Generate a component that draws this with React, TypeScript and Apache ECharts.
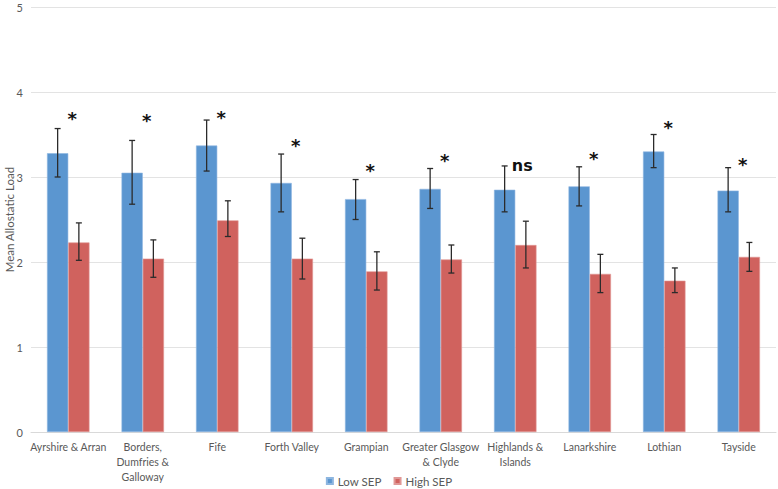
import React, { useEffect, useRef } from "react";
import * as echarts from "echarts";

const categories = [
  "Ayrshire & Arran",
  "Borders,\nDumfries &\nGalloway",
  "Fife",
  "Forth Valley",
  "Grampian",
  "Greater Glasgow\n& Clyde",
  "Highlands &\nIslands",
  "Lanarkshire",
  "Lothian",
  "Tayside",
];
const lowSEP = [3.28, 3.05, 3.37, 2.93, 2.74, 2.86, 2.85, 2.89, 3.3, 2.84];
const lowSEPUpper = [3.57, 3.43, 3.67, 3.27, 2.97, 3.1, 3.13, 3.12, 3.5, 3.11];
const lowSEPLower = [3.0, 2.68, 3.07, 2.59, 2.5, 2.63, 2.59, 2.66, 3.11, 2.59];
const highSEP = [2.23, 2.04, 2.49, 2.04, 1.89, 2.03, 2.2, 1.86, 1.78, 2.06];
const highSEPUpper = [2.46, 2.26, 2.72, 2.28, 2.12, 2.2, 2.48, 2.09, 1.93, 2.23];
const highSEPLower = [2.02, 1.82, 2.3, 1.8, 1.67, 1.87, 1.93, 1.64, 1.64, 1.89];
const sigLabels = ["*", "*", "*", "*", "*", "*", "ns", "*", "*", "*"];
const sigY = [3.71, 3.69, 3.72, 3.4, 3.1, 3.22, 3.14, 3.24, 3.61, 3.17];
const yTicks = [0, 1, 2, 3, 4, 5];

const FONT = "Lato, 'Open Sans', sans-serif";
const GRAY = "#595959";
const BLUE = "#5B96D0";
const RED = "#D0625E";
const BAR_GAP = 0.43;

export default function App() {
  const ref = useRef<HTMLDivElement>(null);
  useEffect(() => {
    document.body.style.margin = "0";
    const chart = echarts.init(ref.current!, null, { renderer: "svg" });

    const errData = (up: number[], lo: number[]) => categories.map((_, i) => [i, lo[i], up[i]]);
    const makeErr = (side: number) => (params: any, api: any) => {
      const idx = api.value(0);
      const band = api.size([1, 0])[0];
      const off = side * band * (1 - BAR_GAP) / 4;
      const lo = api.coord([idx, api.value(1)]);
      const hi = api.coord([idx, api.value(2)]);
      const x = lo[0] + off;
      const cap = 3;
      const style = { stroke: "#2b2b2b", lineWidth: 1.3 };
      return {
        type: "group",
        children: [
          { type: "line", shape: { x1: x, y1: hi[1], x2: x, y2: lo[1] }, style },
          { type: "line", shape: { x1: x - cap, y1: hi[1], x2: x + cap, y2: hi[1] }, style },
          { type: "line", shape: { x1: x - cap, y1: lo[1], x2: x + cap, y2: lo[1] }, style },
        ],
      };
    };

    chart.setOption({
      animation: false,
      textStyle: { fontFamily: FONT },
      grid: { left: 31, right: 2, top: 7, bottom: 57, containLabel: false, outerBoundsMode: "none" },
      legend: {
        bottom: -3,
        left: "center",
        itemWidth: 6,
        itemHeight: 6,
        itemGap: 12,
        icon: "rect",
        textStyle: { color: GRAY, fontSize: 11.5, fontFamily: FONT },
        data: ["Low SEP", "High SEP"],
      },
      xAxis: {
        type: "category",
        data: categories,
        axisLine: { lineStyle: { color: "#d9d9d9" } },
        axisTick: { show: false },
        axisLabel: {
          color: GRAY,
          fontSize: 10.5,
          lineHeight: 15,
          interval: 0,
          margin: 7,
          fontFamily: FONT,
        },
      },
      yAxis: {
        type: "value",
        min: 0,
        max: 5,
        interval: 1,
        name: "Mean Allostatic Load",
        nameLocation: "middle",
        nameGap: 16,
        nameMoveOverlap: false,
        nameTextStyle: { color: GRAY, fontSize: 11.5, fontFamily: FONT },
        axisLabel: {
          color: GRAY,
          fontSize: 11,
          margin: 8,
          fontFamily: FONT,
          formatter: (v: number) => (yTicks.includes(v) ? String(v) : ""),
        },
        splitLine: { lineStyle: { color: "#e3e3e3" } },
      },
      series: [
        {
          name: "Low SEP",
          type: "bar",
          data: lowSEP,
          barGap: "0%",
          barCategoryGap: BAR_GAP * 100 + "%",
          itemStyle: { color: BLUE, borderColor: "#8db6e0", borderWidth: 0.6 },
        },
        {
          name: "High SEP",
          type: "bar",
          data: highSEP,
          barGap: "0%",
          barCategoryGap: BAR_GAP * 100 + "%",
          itemStyle: { color: RED, borderColor: "#e09896", borderWidth: 0.6 },
        },
        {
          type: "custom",
          renderItem: makeErr(-1),
          data: errData(lowSEPUpper, lowSEPLower),
          z: 5,
          silent: true,
        },
        {
          type: "custom",
          renderItem: makeErr(1),
          data: errData(highSEPUpper, highSEPLower),
          z: 5,
          silent: true,
        },
        {
          type: "custom",
          data: categories.map((_, i) => [i, sigY[i], sigLabels[i]]),
          z: 6,
          silent: true,
          renderItem: (params: any, api: any) => {
            const i = params.dataIndex;
            const p = api.coord([api.value(0), api.value(1)]);
            const isStar = sigLabels[i] === "*";
            return {
              type: "text",
              x: p[0] + (isStar ? 4 : 7),
              y: p[1] + (isStar ? 2 : 0),
              style: {
                text: sigLabels[i],
                fontFamily: "'DejaVu Sans', sans-serif",
                fontWeight: "bold",
                fontSize: isStar ? 18 : 16,
                fill: "#111",
                align: "center",
                verticalAlign: "middle",
              },
            };
          },
        },
      ],
    });
    return () => chart.dispose();
  }, []);
  return <div ref={ref} style={{ width: 778, height: 489 }} />;
}
